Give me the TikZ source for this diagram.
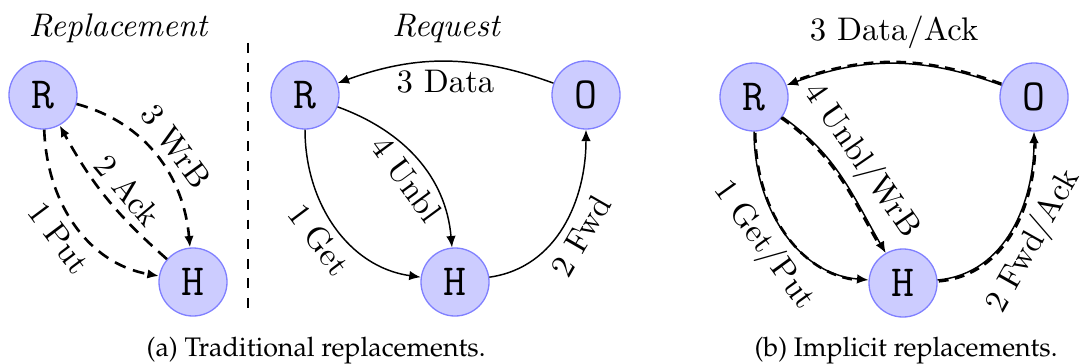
\documentclass[tikz,border=0pt]{standalone}
\usepackage[T1,TU]{fontenc}
\usetikzlibrary{arrows.meta}
\newcommand{\capfont}{\fontencoding{T1}\fontfamily{ppl}\fontsize{8.2}{10}\selectfont}
\begin{document}
\begin{tikzpicture}[x=0.3058pt,y=0.3058pt,
  agent/.style={circle,draw=blue!50,fill=blue!20,minimum size=20.8pt,inner sep=0pt,
    font=\fontsize{13.6}{16}\selectfont\ttfamily},
  arrowtip/.style={-{Latex[length=3.5pt,width=2.9pt]}},
  msg/.style={arrowtip,line width=0.45pt},
  dmsg/.style={arrowtip,line width=0.8pt,dash pattern=on 3.6pt off 2.4pt},
  dpart/.style={line width=0.8pt,dash pattern=on 3pt off 2pt,shorten >=3pt},
  lbl/.style={font=\fontsize{10}{12}\selectfont,inner sep=2.5pt},
  ttl/.style={font=\fontsize{10}{12}\selectfont\itshape,anchor=base},
  captxt/.style={font=\capfont,anchor=base}
]
\useasboundingbox (0,0) rectangle (1085,-363);

% ---- (a) replacement side ----
\node[ttl] (t1) at (118,-37) {Replacement};
\node[agent] (R1) at (43,-95) {R};
\node[agent] (H1) at (193,-282) {H};
\draw[dmsg] (R1) to[out=-88,in=170] node[lbl,sloped,below,pos=0.5] {1 Put} (H1);
\draw[dmsg] (H1) to[bend left=10] node[lbl,sloped,above,pos=0.45] {2 Ack} (R1);
\draw[dmsg] (R1) to[out=-15,in=95] node[lbl,sloped,above,pos=0.52] {3 WrB} (H1);

\coordinate (d1) at (248,-43);
\coordinate (d2) at (248,-308);
\draw[line width=0.45pt,dash pattern=on 3pt off 3pt] (d1) -- (d2);

% ---- (a) request side ----
\node[ttl] (t2) at (446,-37) {Request};
\node[agent] (R2) at (305,-95) {R};
\node[agent] (O2) at (586,-95) {O};
\node[agent] (H2) at (455,-282) {H};
\draw[msg] (R2) to[out=-90,in=172] node[lbl,sloped,below,pos=0.5] {1 Get} (H2);
\draw[msg] (H2) to[out=8,in=-90] node[lbl,sloped,below,pos=0.5] {2 Fwd} (O2);
\draw[msg] (O2) to[out=160,in=20] node[lbl,below,pos=0.5] {3 Data} (R2);
\draw[msg] (R2) to[out=-20,in=95] node[lbl,sloped,below,pos=0.55] {4 Unbl} (H2);

% ---- (b) implicit replacements ----
\node[agent] (R3) at (754,-97) {R};
\node[agent] (O3) at (1034,-97) {O};
\node[agent] (H3) at (903,-283) {H};
\draw[msg] (R3) to[out=-90,in=175] node[lbl,sloped,below,pos=0.5] {1 Get/Put} (H3);
\draw[dpart,transform canvas={shift={(0.4pt,-0.4pt)}}] (R3) to[out=-90,in=175] (H3);
\draw[msg] (H3) to[out=5,in=-90] node[lbl,sloped,below,pos=0.5] {2 Fwd/Ack} (O3);
\draw[dpart,transform canvas={shift={(0.4pt,-0.4pt)}}] (H3) to[out=5,in=-90] (O3);
\draw[msg] (O3) to[out=160,in=20] node[lbl,above,pos=0.5,yshift=2pt] {3 Data/Ack} (R3);
\draw[dpart,transform canvas={shift={(0pt,0.4pt)}}] (O3) to[out=160,in=20] (R3);
\draw[msg] (R3) to[out=-35,in=120] node[lbl,sloped,above,pos=0.48] {4 Unbl/WrB} (H3);
\draw[dpart,transform canvas={shift={(-0.4pt,-0.3pt)}}] (R3) to[out=-35,in=120] (H3);

% ---- captions ----
\node[captxt] (ca) at (316,-356) {(a) Traditional replacements.};
\node[captxt] (cb) at (906,-356) {(b) Implicit replacements.};
\end{tikzpicture}
\end{document}
